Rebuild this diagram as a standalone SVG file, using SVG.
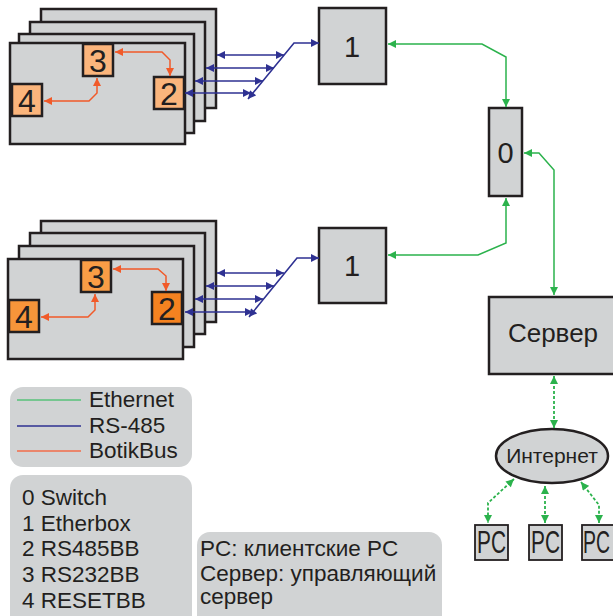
<svg xmlns="http://www.w3.org/2000/svg" width="613" height="616" viewBox="0 0 613 616">
  <defs>
    <marker id="arrBlue" viewBox="0 0 10 10" refX="10" refY="5" markerWidth="9" markerHeight="8" markerUnits="userSpaceOnUse" orient="auto-start-reverse">
      <path d="M0,0 L10,5 L0,10 z" fill="#2e3192"/>
    </marker>
    <marker id="arrGreen" viewBox="0 0 10 10" refX="10" refY="5" markerWidth="9" markerHeight="8" markerUnits="userSpaceOnUse" orient="auto-start-reverse">
      <path d="M0,0 L10,5 L0,10 z" fill="#2bb24c"/>
    </marker>
    <marker id="arrOrange" viewBox="0 0 10 10" refX="10" refY="5" markerWidth="9" markerHeight="8" markerUnits="userSpaceOnUse" orient="auto-start-reverse">
      <path d="M0,0 L10,5 L0,10 z" fill="#f15a29"/>
    </marker>
  </defs>
  <style>
    .card { fill: #d1d3d4; stroke: #231f20; stroke-width: 2.5; }
    .box { fill: #d1d3d4; stroke: #231f20; stroke-width: 2.5; }
    .pc { fill: #d1d3d4; stroke: #231f20; stroke-width: 1.8; }
    .bbA { fill: #fbb57c; stroke: #231f20; stroke-width: 2.5; }
    .bb3 { fill: #f99d46; stroke: #231f20; stroke-width: 2.5; }
    .bb2 { fill: #f58220; stroke: #231f20; stroke-width: 2.5; }
    .bb4 { fill: #f7953a; stroke: #231f20; stroke-width: 2.5; }
    .panel { fill: #d1d3d4; stroke: none; }
    .t { font-family: "Liberation Sans", Arial, sans-serif; fill: #231f20; }
    .num { font-size: 32px; text-anchor: middle; }
    .big { font-size: 29px; text-anchor: middle; }
    .leg { font-size: 22.5px; }
    .pct { font-size: 31px; }
    .rs { fill: none; stroke: #2e3192; stroke-width: 1.6; marker-start: url(#arrBlue); marker-end: url(#arrBlue); }
    .eth { fill: none; stroke: #2bb24c; stroke-width: 1.5; marker-start: url(#arrGreen); marker-end: url(#arrGreen); }
    .net { fill: none; stroke: #2bb24c; stroke-width: 1.8; stroke-dasharray: 3 2; marker-start: url(#arrGreen); marker-end: url(#arrGreen); }
    .bus { fill: none; stroke: #f15a29; stroke-width: 1.5; marker-start: url(#arrOrange); marker-end: url(#arrOrange); }
  </style>

  <!-- upper rack of boards -->
  <g id="rackTop">
    <rect class="card" x="41" y="9" width="175" height="99"/>
    <rect class="card" x="30" y="22" width="175" height="99"/>
    <rect class="card" x="19" y="34" width="175" height="99"/>
    <rect class="card" x="10" y="43" width="175" height="101"/>
  </g>
  <g id="top-rs232bb">
    <rect class="bbA" x="83" y="44" width="30" height="32"/>
    <text class="t num" x="98" y="72">3</text>
  </g>
  <g id="top-rs485bb">
    <rect class="bbA" x="154" y="77" width="30" height="32"/>
    <text class="t num" x="169" y="105">2</text>
  </g>
  <g id="top-resetbb">
    <rect class="bbA" x="12" y="84" width="30" height="32"/>
    <text class="t num" x="27" y="112">4</text>
  </g>

  <!-- lower rack of boards -->
  <g id="rackBottom">
    <rect class="card" x="41" y="221" width="175" height="101"/>
    <rect class="card" x="30" y="233" width="175" height="101"/>
    <rect class="card" x="19" y="246" width="175" height="101"/>
    <rect class="card" x="8" y="259" width="175" height="100"/>
  </g>
  <g id="bot-rs232bb">
    <rect class="bb3" x="81" y="260" width="30" height="32"/>
    <text class="t num" x="96" y="288">3</text>
  </g>
  <g id="bot-rs485bb">
    <rect class="bb2" x="152" y="292" width="30" height="32"/>
    <text class="t num" x="167" y="320">2</text>
  </g>
  <g id="bot-resetbb">
    <rect class="bb4" x="9" y="300" width="30" height="32"/>
    <text class="t num" x="24" y="328">4</text>
  </g>

  <!-- etherboxes, switch, server, internet, clients -->
  <g id="etherboxTop">
    <rect class="box" x="319" y="8" width="67" height="76"/>
    <text class="t big" x="352" y="57">1</text>
  </g>
  <g id="etherboxBottom">
    <rect class="box" x="319" y="228" width="67" height="75"/>
    <text class="t big" x="352" y="276">1</text>
  </g>
  <g id="switch">
    <rect class="box" x="489" y="108" width="33" height="88"/>
    <text class="t big" x="505.5" y="163">0</text>
  </g>
  <g id="server">
    <rect class="box" x="489" y="297" width="130" height="77"/>
    <text class="t" x="553" y="342" font-size="26" text-anchor="middle">Сервер</text>
  </g>
  <g id="internet">
    <ellipse cx="552" cy="456" rx="56" ry="27" fill="#d1d3d4" stroke="#231f20" stroke-width="2.5"/>
    <text class="t" x="552" y="463" font-size="21" text-anchor="middle">Интернет</text>
  </g>
  <g id="pc1">
    <rect class="pc" x="475" y="525" width="33" height="35"/>
    <text class="t pct" x="477" y="553" textLength="29" lengthAdjust="spacingAndGlyphs">PC</text>
  </g>
  <g id="pc2">
    <rect class="pc" x="529" y="525" width="33" height="35"/>
    <text class="t pct" x="531" y="553" textLength="29" lengthAdjust="spacingAndGlyphs">PC</text>
  </g>
  <g id="pc3">
    <rect class="pc" x="582" y="525" width="33" height="35"/>
    <text class="t pct" x="583" y="553" textLength="27" lengthAdjust="spacingAndGlyphs">PC</text>
  </g>

  <!-- legends -->
  <g id="legendLines">
    <rect class="panel" x="10" y="387" width="182" height="80" rx="13"/>
    <line x1="17" y1="400" x2="81" y2="400" stroke="#57c27a" stroke-width="1.3"/>
    <line x1="17" y1="426" x2="81" y2="426" stroke="#2e3192" stroke-width="1.3"/>
    <line x1="17" y1="451" x2="81" y2="451" stroke="#f26d4a" stroke-width="1.3"/>
    <text class="t leg" x="89" y="407">Ethernet</text>
    <text class="t leg" x="89" y="433">RS-485</text>
    <text class="t leg" x="89" y="458">BotikBus</text>
  </g>
  <g id="legendDevices">
    <rect class="panel" x="10" y="475" width="182" height="160" rx="13"/>
    <text class="t leg" x="22" y="505">0 Switch</text>
    <text class="t leg" x="22" y="531">1 Etherbox</text>
    <text class="t leg" x="22" y="556">2 RS485BB</text>
    <text class="t leg" x="22" y="582">3 RS232BB</text>
    <text class="t leg" x="22" y="608">4 RESETBB</text>
  </g>
  <g id="legendNames">
    <rect class="panel" x="197" y="532" width="245" height="100" rx="13"/>
    <text class="t leg" x="200" y="556">PC: клиентские PC</text>
    <text class="t leg" x="200" y="581">Сервер: управляющий</text>
    <text class="t leg" x="200" y="604">сервер</text>
  </g>

  <!-- connectors -->
  <g id="connectors">
    <!-- BotikBus inside the boards -->
    <path class="bus" d="M115,52 H162 L170,60 V76"/>
    <path class="bus" d="M44,101 H89 L97,93 V78"/>
    <path class="bus" d="M113,269 H158 L166,276 V291"/>
    <path class="bus" d="M41,317 H88 L95,310 V294"/>
    <!-- RS-485 upper rack -->
    <path class="rs" d="M217,55 H284"/>
    <path class="rs" d="M206,68 H274"/>
    <path class="rs" d="M195,81 H263"/>
    <path class="rs" d="M185,93 H251"/>
    <path class="rs" d="M248,99 L294,43 H319"/>
    <!-- RS-485 lower rack -->
    <path class="rs" d="M217,273 H284"/>
    <path class="rs" d="M206,286 H274"/>
    <path class="rs" d="M195,299 H263"/>
    <path class="rs" d="M185,312 H253"/>
    <path class="rs" d="M249,317 L297,258 H319"/>
    <!-- Ethernet -->
    <path class="eth" d="M388,44 H482 L506,57 V107"/>
    <path class="eth" d="M524,153 H539 L554,170 V295"/>
    <path class="eth" d="M506,198 V243 L478,255 H388"/>
    <!-- Internet links -->
    <path class="net" d="M554,376 V428"/>
    <path class="net" d="M514,479 L488,503 V523"/>
    <path class="net" d="M545,486 V523"/>
    <path class="net" d="M581,482 L599,505 V523"/>
  </g>
</svg>
